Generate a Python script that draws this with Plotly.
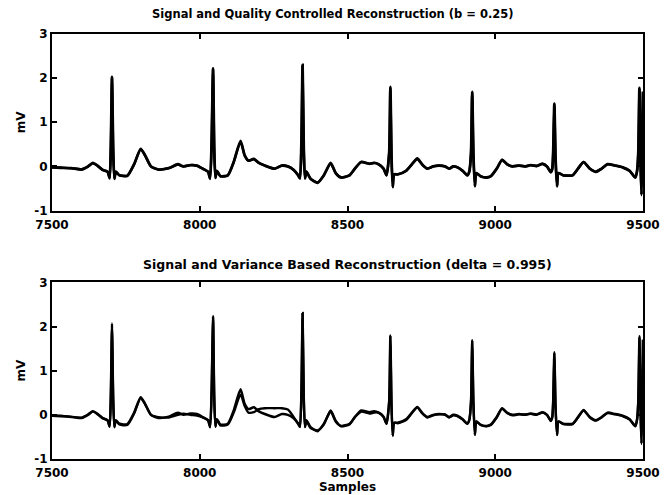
import plotly.graph_objects as go
from plotly.subplots import make_subplots

# Sample index keypoints
samples = [7500, 7530, 7565, 7600, 7622, 7638, 7655, 7672, 7688, 7695, 7699, 7703, 7707, 7711, 7716,
           7728, 7755, 7778, 7800, 7815, 7835, 7860, 7895, 7926, 7945, 7968, 7990, 8010, 8028, 8035,
           8040, 8045, 8049, 8053, 8058, 8070, 8095, 8115, 8138, 8152, 8165, 8183, 8200, 8220, 8253,
           8278, 8298, 8318, 8333, 8339, 8344, 8348, 8352, 8356, 8361, 8375, 8399, 8420, 8443, 8460,
           8478, 8507, 8525, 8546, 8574, 8590, 8605, 8622, 8632, 8641, 8645, 8649, 8653, 8658, 8670,
           8698, 8718, 8736, 8752, 8770, 8790, 8810, 8830, 8844, 8858, 8872, 8890, 8905, 8912, 8918,
           8922, 8926, 8931, 8936, 8950, 8970, 8985, 9005, 9023, 9040, 9058, 9080, 9100, 9120, 9140,
           9160, 9175, 9188, 9193, 9196, 9200, 9204, 9209, 9214, 9230, 9262, 9280, 9299, 9320, 9341,
           9360, 9380, 9405, 9431, 9455, 9474, 9480, 9484, 9488, 9492, 9495, 9498, 9500]

# Original ECG signal (mV)
signal = [-0.02, -0.03, -0.04, -0.07, 0.00, 0.08, 0.01, -0.08, -0.12, -0.27, 0.40, 2.03, 0.40, -0.28, -0.12,
          -0.20, -0.21, 0.05, 0.40, 0.25, 0.00, -0.07, -0.04, 0.05, 0.00, 0.03, 0.02, -0.05, -0.12, -0.28,
          0.50, 2.22, 0.40, -0.26, -0.10, -0.22, -0.20, 0.10, 0.58, 0.25, 0.13, 0.17, 0.08, 0.02, -0.05,
          0.02, 0.00, -0.08, -0.20, -0.27, 0.50, 2.30, 0.40, -0.27, -0.12, -0.28, -0.37, -0.20, 0.08, -0.15,
          -0.25, -0.20, -0.05, 0.10, 0.06, 0.08, 0.05, -0.05, -0.20, 0.30, 1.80, 0.20, -0.47, -0.18, -0.18,
          -0.10, 0.05, 0.18, 0.05, -0.05, 0.00, 0.02, 0.00, -0.05, 0.00, -0.02, -0.10, -0.20, -0.12, 0.30,
          1.69, 0.30, -0.45, -0.15, -0.22, -0.25, -0.22, -0.05, 0.15, 0.05, 0.00, 0.02, 0.00, 0.03, 0.01,
          0.06, 0.00, -0.13, -0.05, 0.30, 1.42, 0.20, -0.45, -0.15, -0.20, -0.20, -0.05, 0.10, -0.05, -0.12,
          -0.05, 0.05, 0.02, -0.02, -0.10, -0.25, -0.10, 0.30, 1.78, 0.00, -0.65, 0.40, 1.70]

# Quality controlled reconstruction (b = 0.25)
recon_q = [-0.02, -0.03, -0.04, -0.06, 0.00, 0.07, 0.01, -0.08, -0.12, -0.26, 0.40, 2.00, 0.40, -0.27, -0.12,
           -0.20, -0.21, 0.05, 0.39, 0.25, 0.00, -0.07, -0.04, 0.04, 0.00, 0.03, 0.02, -0.05, -0.12, -0.27,
           0.50, 2.20, 0.40, -0.26, -0.10, -0.22, -0.20, 0.10, 0.56, 0.25, 0.13, 0.16, 0.08, 0.02, -0.05,
           0.02, 0.00, -0.08, -0.20, -0.27, 0.50, 2.28, 0.40, -0.27, -0.12, -0.28, -0.36, -0.20, 0.07, -0.15,
           -0.25, -0.20, -0.05, 0.10, 0.06, 0.08, 0.05, -0.05, -0.20, 0.30, 1.78, 0.20, -0.46, -0.18, -0.18,
           -0.10, 0.05, 0.17, 0.05, -0.05, 0.00, 0.02, 0.00, -0.05, 0.00, -0.02, -0.10, -0.20, -0.12, 0.30,
           1.67, 0.30, -0.44, -0.15, -0.22, -0.25, -0.22, -0.05, 0.15, 0.05, 0.00, 0.02, 0.00, 0.03, 0.01,
           0.06, 0.00, -0.13, -0.05, 0.30, 1.40, 0.20, -0.44, -0.15, -0.20, -0.20, -0.05, 0.10, -0.05, -0.12,
           -0.05, 0.05, 0.02, -0.02, -0.10, -0.25, -0.10, 0.30, 1.76, 0.00, -0.64, 0.40, 1.68]

# Variance based reconstruction (delta = 0.995)
recon_v = [-0.01, -0.02, -0.05, -0.06, 0.01, 0.08, 0.02, -0.07, -0.13, -0.26, 0.40, 2.08, 0.40, -0.27, -0.13,
           -0.22, -0.23, 0.03, 0.38, 0.24, 0.00, -0.05, -0.06, 0.00, 0.03, 0.00, -0.02, -0.06, -0.12, -0.27,
           0.50, 2.24, 0.40, -0.27, -0.10, -0.24, -0.22, 0.05, 0.46, 0.20, 0.05, 0.06, 0.13, 0.15, 0.15,
           0.15, 0.12, -0.05, -0.20, -0.27, 0.50, 2.31, 0.40, -0.28, -0.13, -0.30, -0.35, -0.22, 0.10, -0.13,
           -0.26, -0.22, -0.05, 0.07, 0.03, 0.05, 0.05, -0.04, -0.20, 0.30, 1.79, 0.20, -0.47, -0.18, -0.19,
           -0.12, 0.04, 0.17, 0.04, -0.06, -0.01, 0.01, 0.01, -0.06, -0.01, -0.03, -0.11, -0.20, -0.12, 0.30,
           1.68, 0.30, -0.45, -0.15, -0.23, -0.26, -0.23, -0.06, 0.14, 0.04, -0.01, 0.01, 0.01, 0.02, 0.00,
           0.05, 0.00, -0.14, -0.05, 0.30, 1.40, 0.20, -0.46, -0.15, -0.21, -0.21, -0.06, 0.11, -0.06, -0.13,
           -0.06, 0.04, 0.01, -0.03, -0.11, -0.26, -0.10, 0.30, 1.76, 0.00, -0.66, 0.40, 1.70]

x_ticks = [7500, 8000, 8500, 9000, 9500]
y_ticks = [-1, 0, 1, 2, 3]
title_top = "Signal and Quality Controlled Reconstruction (b = 0.25)"
title_bottom = "Signal and Variance Based Reconstruction (delta = 0.995)"

FONT = "DejaVu Sans"

fig = make_subplots(rows=2, cols=1, vertical_spacing=0.169)

line_shape = dict(shape="spline", smoothing=0.6)
fig.add_trace(go.Scatter(x=samples, y=signal, mode="lines",
                         line=dict(color="black", width=2.8, **line_shape)), row=1, col=1)
fig.add_trace(go.Scatter(x=samples, y=recon_q, mode="lines",
                         line=dict(color="black", width=2.4, **line_shape)), row=1, col=1)
fig.add_trace(go.Scatter(x=samples, y=signal, mode="lines",
                         line=dict(color="black", width=2.5, **line_shape)), row=2, col=1)
fig.add_trace(go.Scatter(x=samples, y=recon_v, mode="lines",
                         line=dict(color="black", width=2.3, **line_shape)), row=2, col=1)

axis_common = dict(showgrid=False, zeroline=False, showline=True, linecolor="black",
                   linewidth=2, mirror="ticks", ticks="inside", ticklen=5, tickwidth=2,
                   tickcolor="black", automargin=False,
                   tickfont=dict(family=FONT, size=12, color="black", weight="bold"))

for r in (1, 2):
    fig.update_xaxes(range=[7500, 9500], tickvals=x_ticks, ticktext=[str(v) for v in x_ticks],
                     ticklabelstandoff=2, row=r, col=1, **axis_common)
    fig.update_yaxes(range=[-1, 3], tickvals=y_ticks, ticktext=[str(v) for v in y_ticks],
                     row=r, col=1,
                     title=dict(text="mV", font=dict(family=FONT, size=12, color="black", weight="bold"),
                                standoff=6),
                     **axis_common)

fig.update_xaxes(title=dict(text="Samples", font=dict(family=FONT, size=12, color="black", weight="bold"),
                            standoff=2), row=2, col=1)

fig.add_annotation(text=title_top, xref="paper", yref="paper", x=0.5, y=1.0, yanchor="middle",
                   xshift=-15, yshift=20, showarrow=False,
                   font=dict(family=FONT, size=11.5, color="black", weight="bold"))
fig.add_annotation(text=title_bottom, xref="paper", yref="paper", x=0.5, y=0.419, yanchor="middle",
                   yshift=16, showarrow=False,
                   font=dict(family=FONT, size=12.5, color="black", weight="bold"))

fig.update_layout(width=664, height=495, margin=dict(l=52, r=21, t=34, b=36),
                  showlegend=False, plot_bgcolor="white", paper_bgcolor="white")

fig.write_html("out.html")
